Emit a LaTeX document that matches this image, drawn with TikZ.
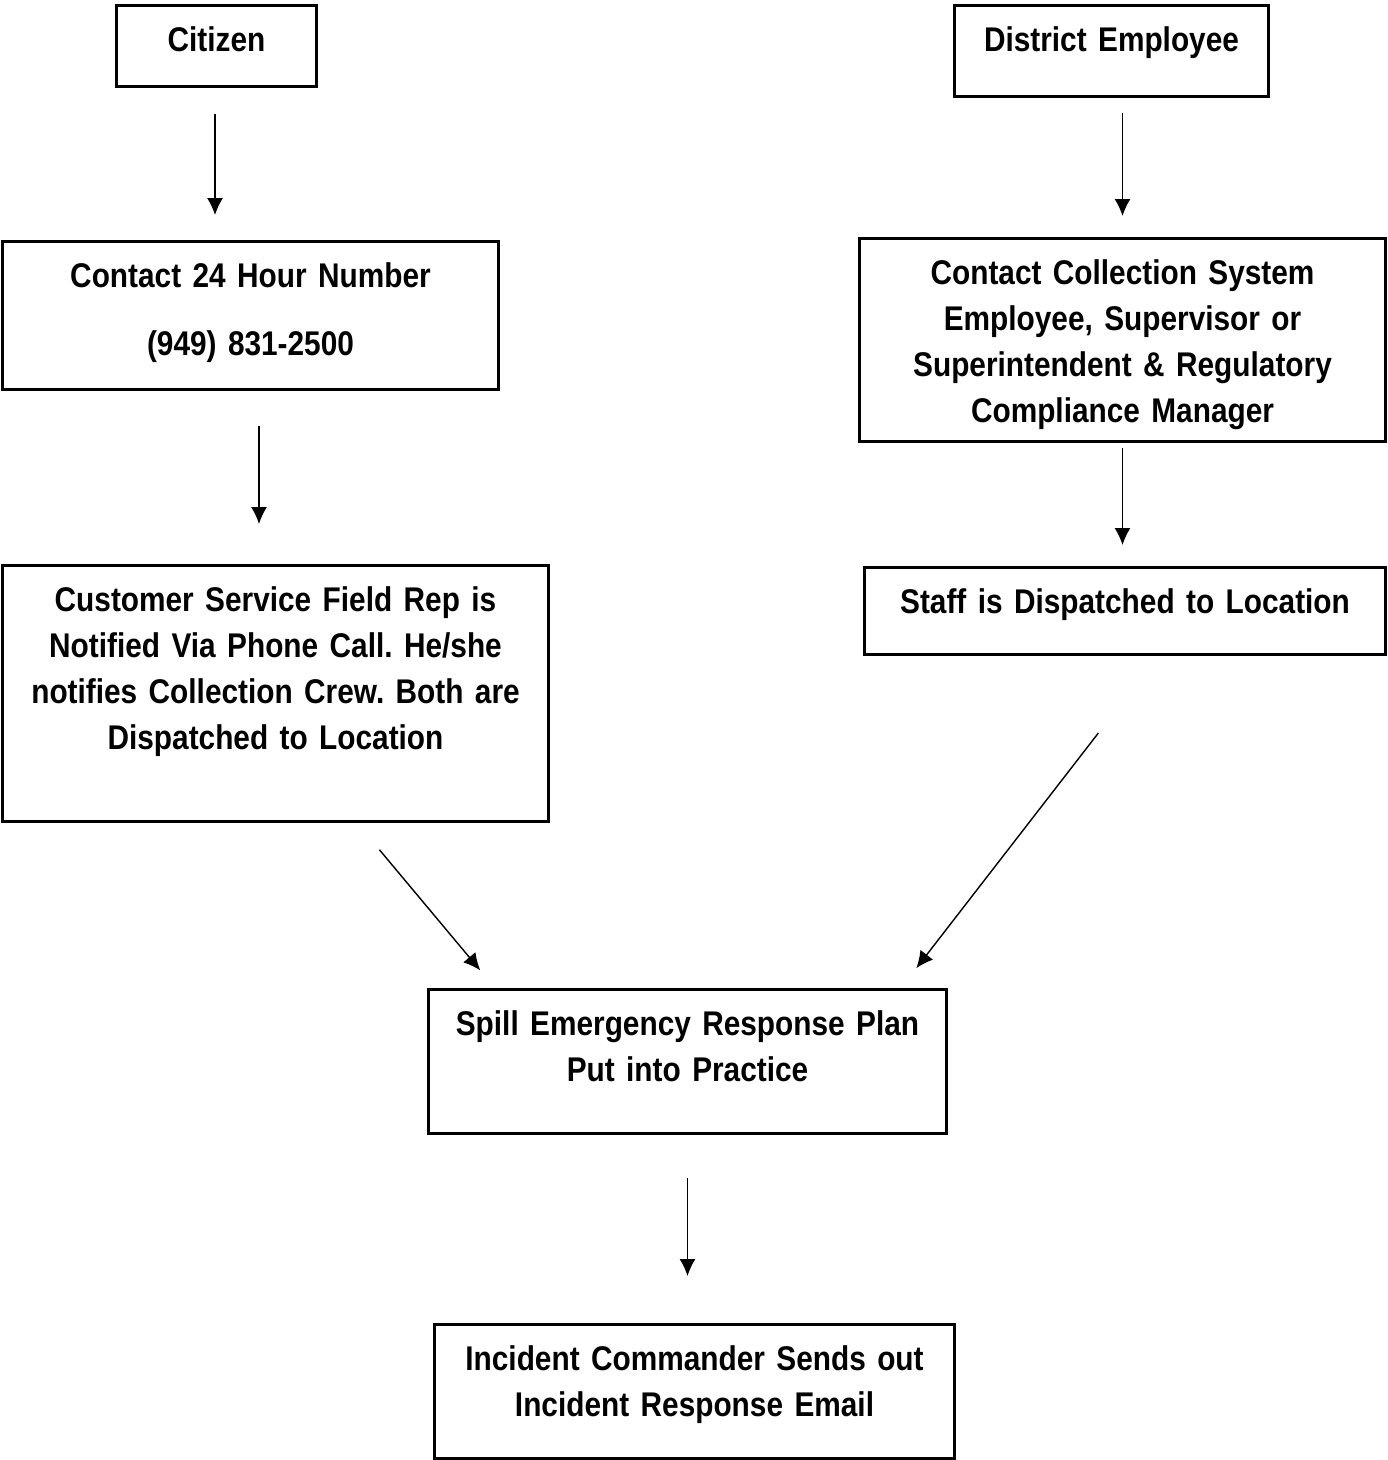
\documentclass[tikz,border=0pt]{standalone}
\usepackage{fontspec}
\setmainfont{Liberation Sans}[FakeStretch=0.87]
\usetikzlibrary{shapes,arrows.meta,positioning}
\definecolor{boxline}{RGB}{0,0,0}
\definecolor{arrowline}{RGB}{0,0,0}
\tikzset{
    % boxes of the flow chart
    flowbox/.style={
        rectangle, draw=boxline, line width=1.7pt, fill=white,
        inner sep=0pt, align=center, anchor=north,
        text height=0.92cm,
        font=\fontsize{19.5}{26.2}\selectfont\bfseries\frenchspacing
    },
    % arrows that stop short of the boxes
    arrow/.style={
        -{Latex[length=3.4mm,width=3.2mm]}, line width=0.8pt, color=arrowline
    }
}
\begin{document}
\begin{tikzpicture}[x=0.02cm,y=-0.02cm]
\useasboundingbox (0,0) rectangle (1387,1460);

% left column
\node[flowbox, text width=4.02cm, text depth=0.70cm] (citizen) at (216.5,4) {Citizen};
\node[flowbox, text width=9.94cm, text depth=2.04cm] (contact) at (250.5,240)
    {Contact 24 Hour Number\\[12.5pt] (949) 831-2500};
\node[flowbox, text width=10.94cm, text depth=4.20cm] (customer) at (275.5,564)
    {Customer Service Field Rep is\\ Notified Via Phone Call. He/she\\ notifies Collection Crew. Both are\\ Dispatched to Location};

% right column
\node[flowbox, text width=6.30cm, text depth=0.90cm] (district) at (1111.5,4) {District Employee};
\node[flowbox, text width=10.54cm, text depth=3.14cm] (collection) at (1122.5,237)
    {Contact Collection System\\ Employee, Supervisor or\\ Superintendent \& Regulatory\\ Compliance Manager};
\node[flowbox, text width=10.44cm, text depth=0.82cm] (staff) at (1125,566) {Staff is Dispatched to Location};

% bottom
\node[flowbox, text width=10.38cm, text depth=1.96cm] (spill) at (687.5,988)
    {Spill Emergency Response Plan\\ Put into Practice};
\node[flowbox, text width=10.42cm, text depth=1.76cm] (incident) at (694.5,1323)
    {Incident Commander Sends out\\ Incident Response Email};

\draw[arrow, shorten <=0.52cm, shorten >=0.50cm] ([xshift=-0.03cm]citizen.south) -- ([xshift=-0.03cm]citizen.south |- contact.north);
\draw[arrow, shorten <=0.70cm, shorten >=0.80cm] ([xshift=0.17cm]contact.south) -- ([xshift=0.17cm]contact.south |- customer.north);
\draw[arrow, shorten <=0.30cm, shorten >=0.42cm] (district.south -| collection.north) -- (collection.north);
\draw[arrow, shorten <=0.10cm, shorten >=0.42cm] (collection.south) -- (collection.south |- staff.north);
\draw[arrow, shorten <=0.70cm, shorten >=0.46cm] ([xshift=1.63cm]customer.south) -- ([xshift=-3.85cm]spill.north);
\draw[arrow, shorten <=1.95cm, shorten >=0.50cm] ([xshift=0.66cm]staff.south) -- ([xshift=4.27cm]spill.north);
\draw[arrow, shorten <=0.86cm, shorten >=0.94cm] (spill.south) -- (spill.south |- incident.north);

\end{tikzpicture}
\end{document}
